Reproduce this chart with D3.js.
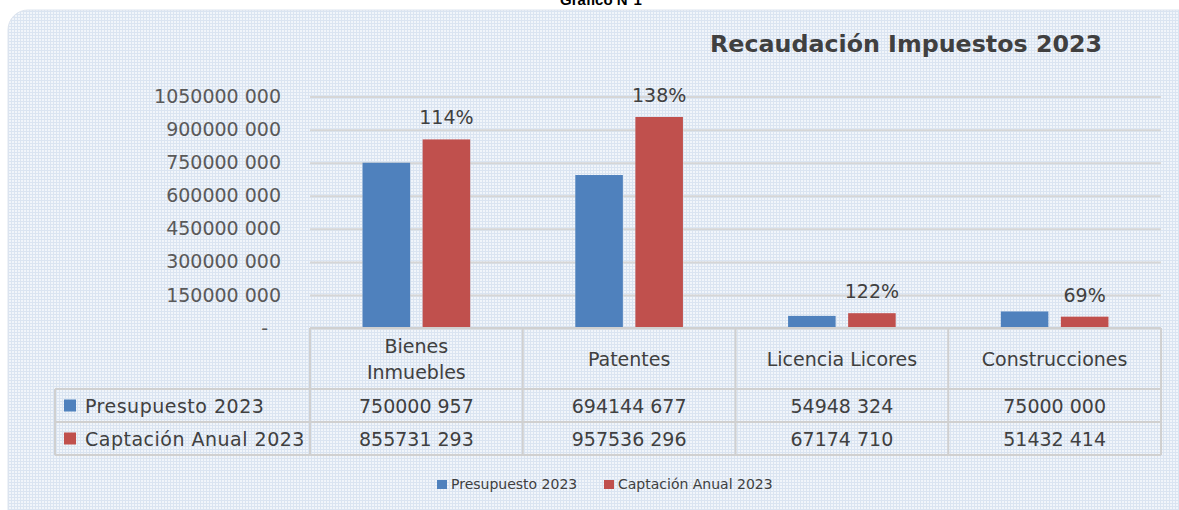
<!DOCTYPE html>
<html>
<head>
<meta charset="utf-8">
<script src="https://cdn.jsdelivr.net/npm/d3@7"></script>
<style>
  body { margin: 0; background: #fff; }
  svg { display: block; }
</style>
</head>
<body>
<div class="canvas"></div>
<script>
var categories = [["Bienes", "Inmuebles"], ["Patentes"], ["Licencia Licores"], ["Construcciones"]];
var series = ["Presupuesto 2023", "Captación Anual 2023"];
var presupuesto = [750000957, 694144677, 54948324, 75000000];
var captacion = [855731293, 957536296, 67174710, 51432414];
var yTicks = [0, 150000000, 300000000, 450000000, 600000000, 750000000, 900000000, 1050000000];

var colors = ["#4f81bd", "#c0504d"];
var W = 1179, H = 510;

// "750000957" -> "750000 957"
function fmt(n) {
    if (n === 0) return "-";
    var s = String(n);
    return s.slice(0, -3) + " " + s.slice(-3);
}

var svg = d3.select(".canvas").append("svg")
    .attr("width", W)
    .attr("height", H);

// dotted background pattern
var defs = svg.append("defs");
var pat = defs.append("pattern")
    .attr("id", "dots")
    .attr("width", 3).attr("height", 3)
    .attr("patternUnits", "userSpaceOnUse");
pat.append("rect").attr("width", 3).attr("height", 3).attr("fill", "#dae4f1");
pat.append("rect").attr("width", 2).attr("height", 2).attr("fill", "#f1f5fa");

svg.append("rect").attr("width", W).attr("height", H).attr("fill", "#fff");

svg.append("text")
    .attr("x", 601).attr("y", 5)
    .attr("text-anchor", "middle")
    .style("font-family", "'Liberation Sans', Arial, sans-serif")
    .style("font-weight", "bold")
    .style("font-size", "15px")
    .attr("fill", "#000")
    .text("Gráfico N°1");

svg.append("rect")
    .attr("x", 8).attr("y", 10)
    .attr("width", 1200).attr("height", 530)
    .attr("rx", 20)
    .attr("fill", "url(#dots)")
    .attr("stroke", "#dde4ee")
    .attr("stroke-width", 1);

svg.append("text")
    .attr("x", 906).attr("y", 52)
    .attr("text-anchor", "middle")
    .attr("textLength", 392)
    .attr("lengthAdjust", "spacingAndGlyphs")
    .style("font-family", "'DejaVu Sans', sans-serif")
    .style("font-weight", "bold")
    .style("font-size", "23px")
    .attr("fill", "#404040")
    .text("Recaudación Impuestos 2023");

var plotLeft = 310, plotRight = 1161;
var y = d3.scaleLinear().domain([0, 1050000000]).range([328, 96.6]);
var x = d3.scaleBand().domain(d3.range(categories.length)).range([plotLeft, plotRight]);
var xSub = d3.scaleBand().domain(d3.range(series.length))
    .range([0, x.bandwidth()])
    .paddingInner(0.2083).paddingOuter(0.875);

// y axis with gridlines
var yAxis = svg.append("g")
    .attr("transform", "translate(" + plotLeft + ",0)")
    .call(d3.axisLeft(y)
        .tickValues(yTicks)
        .tickSize(-(plotRight - plotLeft))
        .tickPadding(29)
        .tickFormat(fmt));
yAxis.select(".domain").remove();
yAxis.selectAll(".tick line")
    .attr("stroke", "#d6d6d6")
    .attr("stroke-width", 2);
yAxis.selectAll(".tick text")
    .attr("fill", "#595959")
    .style("font-family", "'DejaVu Sans', sans-serif")
    .style("font-size", "19px");
yAxis.selectAll(".tick").filter(function (d) { return d === 0; })
    .select("text").attr("x", -42);

// bars
var values = [presupuesto, captacion];
values.forEach(function (vals, si) {
    svg.append("g").selectAll("rect")
        .data(vals)
        .enter().append("rect")
        .attr("x", function (d, i) { return x(i) + xSub(si); })
        .attr("y", function (d) { return y(d); })
        .attr("width", xSub.bandwidth())
        .attr("height", function (d) { return y(0) - y(d); })
        .attr("fill", colors[si]);
});

// percentage labels above the red bars
svg.append("g").selectAll("text")
    .data(captacion)
    .enter().append("text")
    .attr("x", function (d, i) { return x(i) + xSub(1) + xSub.bandwidth() / 2; })
    .attr("y", function (d) { return y(d) - 15; })
    .attr("text-anchor", "middle")
    .attr("fill", "#404040")
    .style("font-family", "'DejaVu Sans', sans-serif")
    .style("font-size", "19px")
    .text(function (d, i) { return Math.round(d / presupuesto[i] * 100) + "%"; });

// data table
var rowTop = 328, headBottom = 389, row1Bottom = 422, row2Bottom = 455, tableLeft = 55;
var grid = svg.append("g")
    .attr("stroke", "#d0d0d0")
    .attr("stroke-width", 2);
grid.append("line").attr("x1", plotLeft).attr("x2", plotRight).attr("y1", rowTop).attr("y2", rowTop);
[headBottom, row1Bottom, row2Bottom].forEach(function (yy) {
    grid.append("line").attr("x1", tableLeft).attr("x2", plotRight).attr("y1", yy).attr("y2", yy);
});
d3.range(categories.length + 1).forEach(function (i) {
    var xx = i < categories.length ? x(i) : plotRight;
    grid.append("line").attr("x1", xx).attr("x2", xx).attr("y1", rowTop).attr("y2", row2Bottom);
});
grid.append("line").attr("x1", tableLeft).attr("x2", tableLeft).attr("y1", headBottom).attr("y2", row2Bottom);

var tableText = svg.append("g")
    .attr("fill", "#404040")
    .style("font-family", "'DejaVu Sans', sans-serif")
    .style("font-size", "19px");

categories.forEach(function (lines, i) {
    var cx = x(i) + x.bandwidth() / 2;
    var mid = (rowTop + headBottom) / 2 + 7;
    lines.forEach(function (ln, k) {
        tableText.append("text")
            .attr("x", cx)
            .attr("y", mid + (k - (lines.length - 1) / 2) * 26)
            .attr("text-anchor", "middle")
            .text(ln);
    });
});

var rowMids = [(headBottom + row1Bottom) / 2, (row1Bottom + row2Bottom) / 2];
values.forEach(function (vals, si) {
    var ym = rowMids[si];
    svg.append("rect")
        .attr("x", 64).attr("y", ym - 6)
        .attr("width", 12).attr("height", 12)
        .attr("fill", colors[si]);
    tableText.append("text")
        .attr("x", 85).attr("y", ym + 7)
        .style("letter-spacing", "0.5px")
        .text(series[si]);
    vals.forEach(function (v, i) {
        tableText.append("text")
            .attr("x", x(i) + x.bandwidth() / 2)
            .attr("y", ym + 7)
            .attr("text-anchor", "middle")
            .text(fmt(v));
    });
});

// bottom legend
var legend = svg.append("g")
    .style("font-family", "'DejaVu Sans', sans-serif")
    .style("font-size", "14px")
    .attr("fill", "#404040");
var legendX = [437, 604];
series.forEach(function (s, i) {
    legend.append("rect")
        .attr("x", legendX[i]).attr("y", 480)
        .attr("width", 10).attr("height", 9)
        .attr("fill", colors[i]);
    legend.append("text")
        .attr("x", legendX[i] + 14).attr("y", 489)
        .text(s);
});
</script>
</body>
</html>
